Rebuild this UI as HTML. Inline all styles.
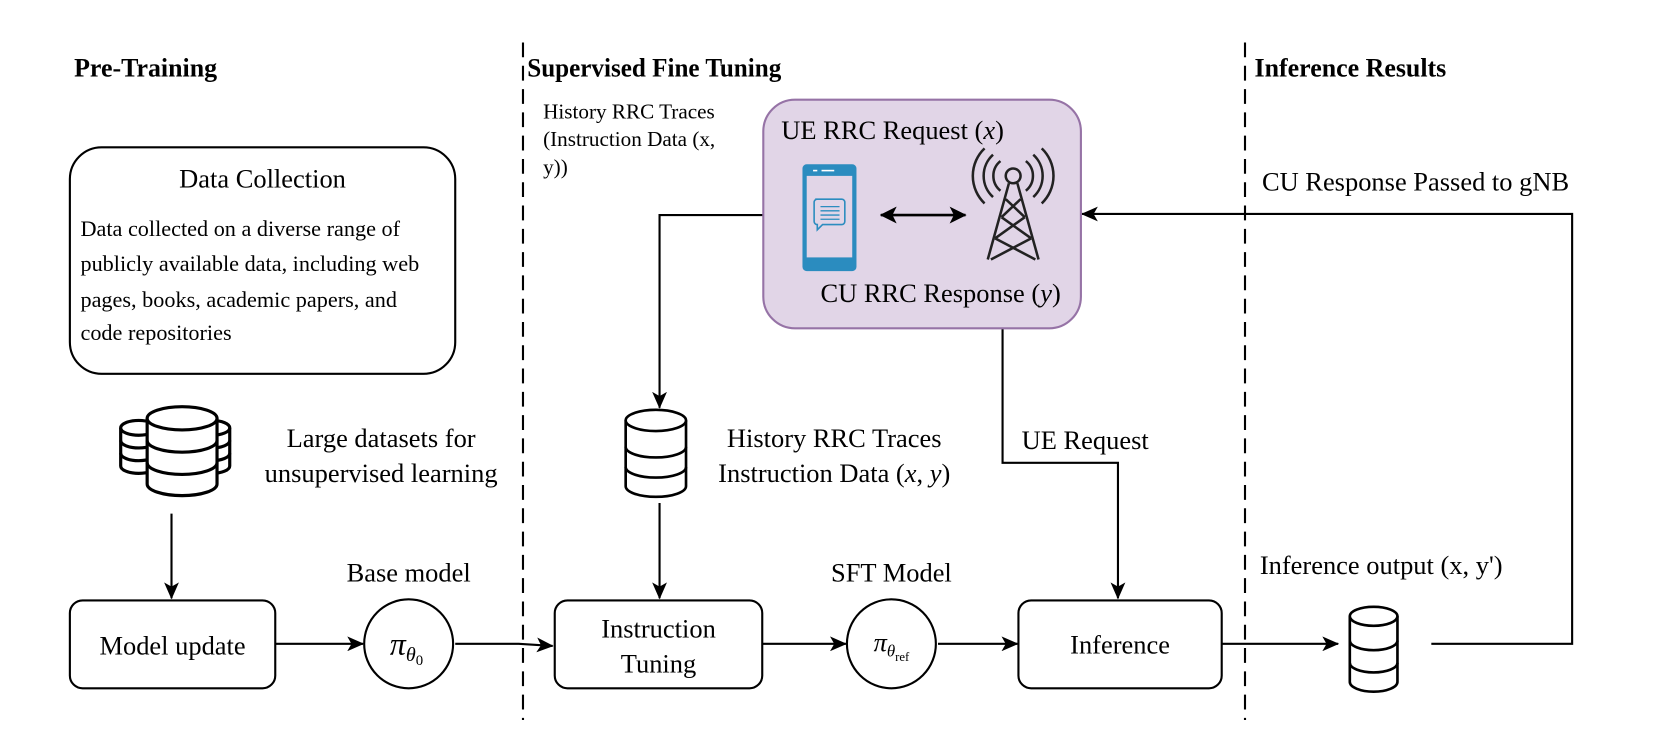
<!DOCTYPE html>
<html><head><meta charset="utf-8"><style>
html,body{margin:0;padding:0;background:#fff}
svg{display:block}
text{font-family:"Liberation Serif",serif;fill:#000}
</style></head><body>
<svg width="1660" height="753" viewBox="0 0 1568 711" xmlns="http://www.w3.org/2000/svg">
<defs>
<marker id="a" markerWidth="16" markerHeight="14" refX="15" refY="7" orient="auto" markerUnits="userSpaceOnUse" viewBox="0 0 16 14">
<path d="M0,0 L16,7 L0,14 L4,7 z" fill="#000"/></marker>
<marker id="as" markerWidth="16" markerHeight="16" refX="15" refY="8" orient="auto-start-reverse" markerUnits="userSpaceOnUse" viewBox="0 0 16 16">
<path d="M0,0 L16,8 L0,16 L4,8 z" fill="#000"/></marker>
</defs>
<g stroke="#000" stroke-width="2" stroke-dasharray="14,8">
<line x1="494" y1="40" x2="494" y2="680"/>
<line x1="1176" y1="40" x2="1176" y2="680"/>
</g>
<g font-weight="bold" font-size="24.5">
<text x="70" y="72">Pre-Training</text>
<text x="498" y="72" textLength="240" lengthAdjust="spacingAndGlyphs">Supervised Fine Tuning</text>
<text x="1185" y="72">Inference Results</text>
</g>
<rect x="66" y="139" width="364" height="214" rx="30" fill="none" stroke="#000" stroke-width="2"/>
<text x="248" y="177" font-size="25" text-anchor="middle">Data Collection</text>
<g font-size="21">
<text x="76" y="223">Data collected on a diverse range of</text>
<text x="76" y="256">publicly available data, including web</text>
<text x="76" y="290">pages, books, academic papers, and</text>
<text x="76" y="321">code repositories</text>
</g>
<!-- big DB -->
<g fill="#fff" stroke="#000" stroke-width="3">
<path d="M114,404 v36 a17,7 0 0 0 34,0 v-36"/><ellipse cx="131" cy="404" rx="17" ry="7"/>
<path d="M114,416 a17,7 0 0 0 34,0 M114,428 a17,7 0 0 0 34,0" fill="none"/>
<path d="M183,404 v36 a17,7 0 0 0 34,0 v-36"/><ellipse cx="200" cy="404" rx="17" ry="7"/>
<path d="M183,416 a17,7 0 0 0 34,0 M183,428 a17,7 0 0 0 34,0" fill="none"/>
<path d="M139,395 v62 a33,11 0 0 0 66,0 v-62"/><ellipse cx="172" cy="395" rx="33" ry="11"/>
<path d="M139,416 a33,11 0 0 0 66,0 M139,437 a33,11 0 0 0 66,0" fill="none"/>
</g>
<text x="360" y="422" font-size="25" text-anchor="middle">Large datasets for</text>
<text x="360" y="455" font-size="25" text-anchor="middle">unsupervised learning</text>
<g stroke="#000" stroke-width="2" fill="none">
<line x1="162" y1="485" x2="162" y2="565" marker-end="url(#a)"/>
<rect x="66" y="567" width="194" height="83" rx="12"/>
<line x1="260" y1="608" x2="343" y2="608" marker-end="url(#a)"/>
<circle cx="386" cy="608" r="42"/>
<path d="M430,608 L490,608 L522,610" marker-end="url(#a)"/>
<rect x="524" y="567" width="196" height="83" rx="12"/>
<line x1="720" y1="608" x2="799" y2="608" marker-end="url(#a)"/>
<circle cx="842" cy="608" r="42"/>
<line x1="886" y1="608" x2="961" y2="608" marker-end="url(#a)"/>
<rect x="962" y="567" width="192" height="83" rx="12"/>
<line x1="1154" y1="608" x2="1264" y2="608" marker-end="url(#a)"/>
<polyline points="1352,608 1485,608 1485,202 1022,202" marker-end="url(#a)"/>
<polyline points="721,203 623,203 623,385" marker-end="url(#a)"/>
<line x1="623" y1="475" x2="623" y2="565" marker-end="url(#a)"/>
<polyline points="947,310 947,437 1056,437 1056,565" marker-end="url(#a)"/>
</g>
<text x="163" y="618" font-size="25" text-anchor="middle">Model update</text>
<text x="386" y="549" font-size="25" text-anchor="middle">Base model</text>
<text x="384" y="618" font-size="30" text-anchor="middle" font-style="italic">π<tspan font-size="19" dy="6">θ</tspan><tspan font-size="14" dy="4" font-style="normal">0</tspan></text>
<text x="622" y="602" font-size="25" text-anchor="middle">Instruction</text>
<text x="622" y="635" font-size="25" text-anchor="middle">Tuning</text>
<text x="842" y="549" font-size="25" text-anchor="middle">SFT Model</text>
<text x="842" y="615" font-size="25" text-anchor="middle" font-style="italic">π<tspan font-size="16" dy="5">θ</tspan><tspan font-size="12" dy="4" font-style="normal">ref</tspan></text>
<text x="1058" y="617" font-size="25" text-anchor="middle">Inference</text>
<!-- small DBs -->
<g fill="#fff" stroke="#000" stroke-width="2.5">
<path d="M591,397 v62 a28,10 0 0 0 57,0 v-62"/><ellipse cx="619.5" cy="397" rx="28.5" ry="10"/>
<path d="M591,422 a28.5,10 0 0 0 57,0 M591,441 a28.5,10 0 0 0 57,0" fill="none"/>
<path d="M1275,582 v62 a22,9 0 0 0 45,0 v-62"/><ellipse cx="1297.5" cy="582" rx="22.5" ry="9"/>
<path d="M1275,605 a22.5,9 0 0 0 45,0 M1275,626 a22.5,9 0 0 0 45,0" fill="none"/>
</g>
<text x="788" y="422" font-size="25" text-anchor="middle">History RRC Traces</text>
<text x="788" y="455" font-size="25" text-anchor="middle">Instruction Data (<tspan font-style="italic">x</tspan>, <tspan font-style="italic">y</tspan>)</text>
<text x="965" y="424" font-size="25">UE Request</text>
<g font-size="20">
<text x="513" y="112">History RRC Traces</text>
<text x="513" y="138">(Instruction Data (x,</text>
<text x="513" y="164">y))</text>
</g>
<text x="1192" y="180" font-size="25">CU Response Passed to gNB</text>
<text x="1190" y="542" font-size="25">Inference output (x, y')</text>
<!-- purple box -->
<rect x="721" y="94" width="300" height="216" rx="30" fill="#e1d5e7" stroke="#9673a6" stroke-width="2"/>
<text x="738" y="131" font-size="25">UE RRC Request (<tspan font-style="italic">x</tspan>)</text>
<text x="775" y="285" font-size="25">CU RRC Response (<tspan font-style="italic">y</tspan>)</text>
<!-- phone -->
<rect x="758" y="155" width="51" height="101" rx="4" fill="#2b8cbf"/>
<rect x="762" y="166" width="43" height="77" fill="#e1d5e7"/>
<line x1="768" y1="161" x2="772" y2="161" stroke="#fff" stroke-width="1.5"/>
<line x1="776" y1="161" x2="788" y2="161" stroke="#fff" stroke-width="1.5"/>
<path d="M770,188 h25 a3,3 0 0 1 3,3 v18 a3,3 0 0 1 -3,3 h-18 l-5,5 v-5 a3,3 0 0 1 -3,-3 v-18 a3,3 0 0 1 3,-3z" fill="none" stroke="#2b8cbf" stroke-width="1.5"/>
<g stroke="#2b8cbf" stroke-width="1.2"><line x1="775" y1="195" x2="793" y2="195"/><line x1="775" y1="199" x2="793" y2="199"/><line x1="775" y1="203" x2="793" y2="203"/><line x1="775" y1="207" x2="793" y2="207"/></g>
<line x1="832" y1="203" x2="912" y2="203" stroke="#000" stroke-width="2.5" marker-start="url(#as)" marker-end="url(#as)"/>
<!-- tower -->
<g stroke="#222" stroke-width="2.4" fill="none">
<circle cx="957" cy="166" r="7"/>
<path d="M953,173 L933,245 M961,173 L981,245 M950,188 L968,205 M964,188 L946,205 M946,205 L974,225 M968,205 L940,225 M940,225 L978,245 M974,225 L936,245"/>
<path d="M945,152 a18,18 0 0 0 0,28 M938,146 a27,27 0 0 0 0,40 M930,140 a36,36 0 0 0 0,52"/>
<path d="M969,152 a18,18 0 0 1 0,28 M976,146 a27,27 0 0 1 0,40 M984,140 a36,36 0 0 1 0,52"/>
</g>
</svg>
</body></html>
